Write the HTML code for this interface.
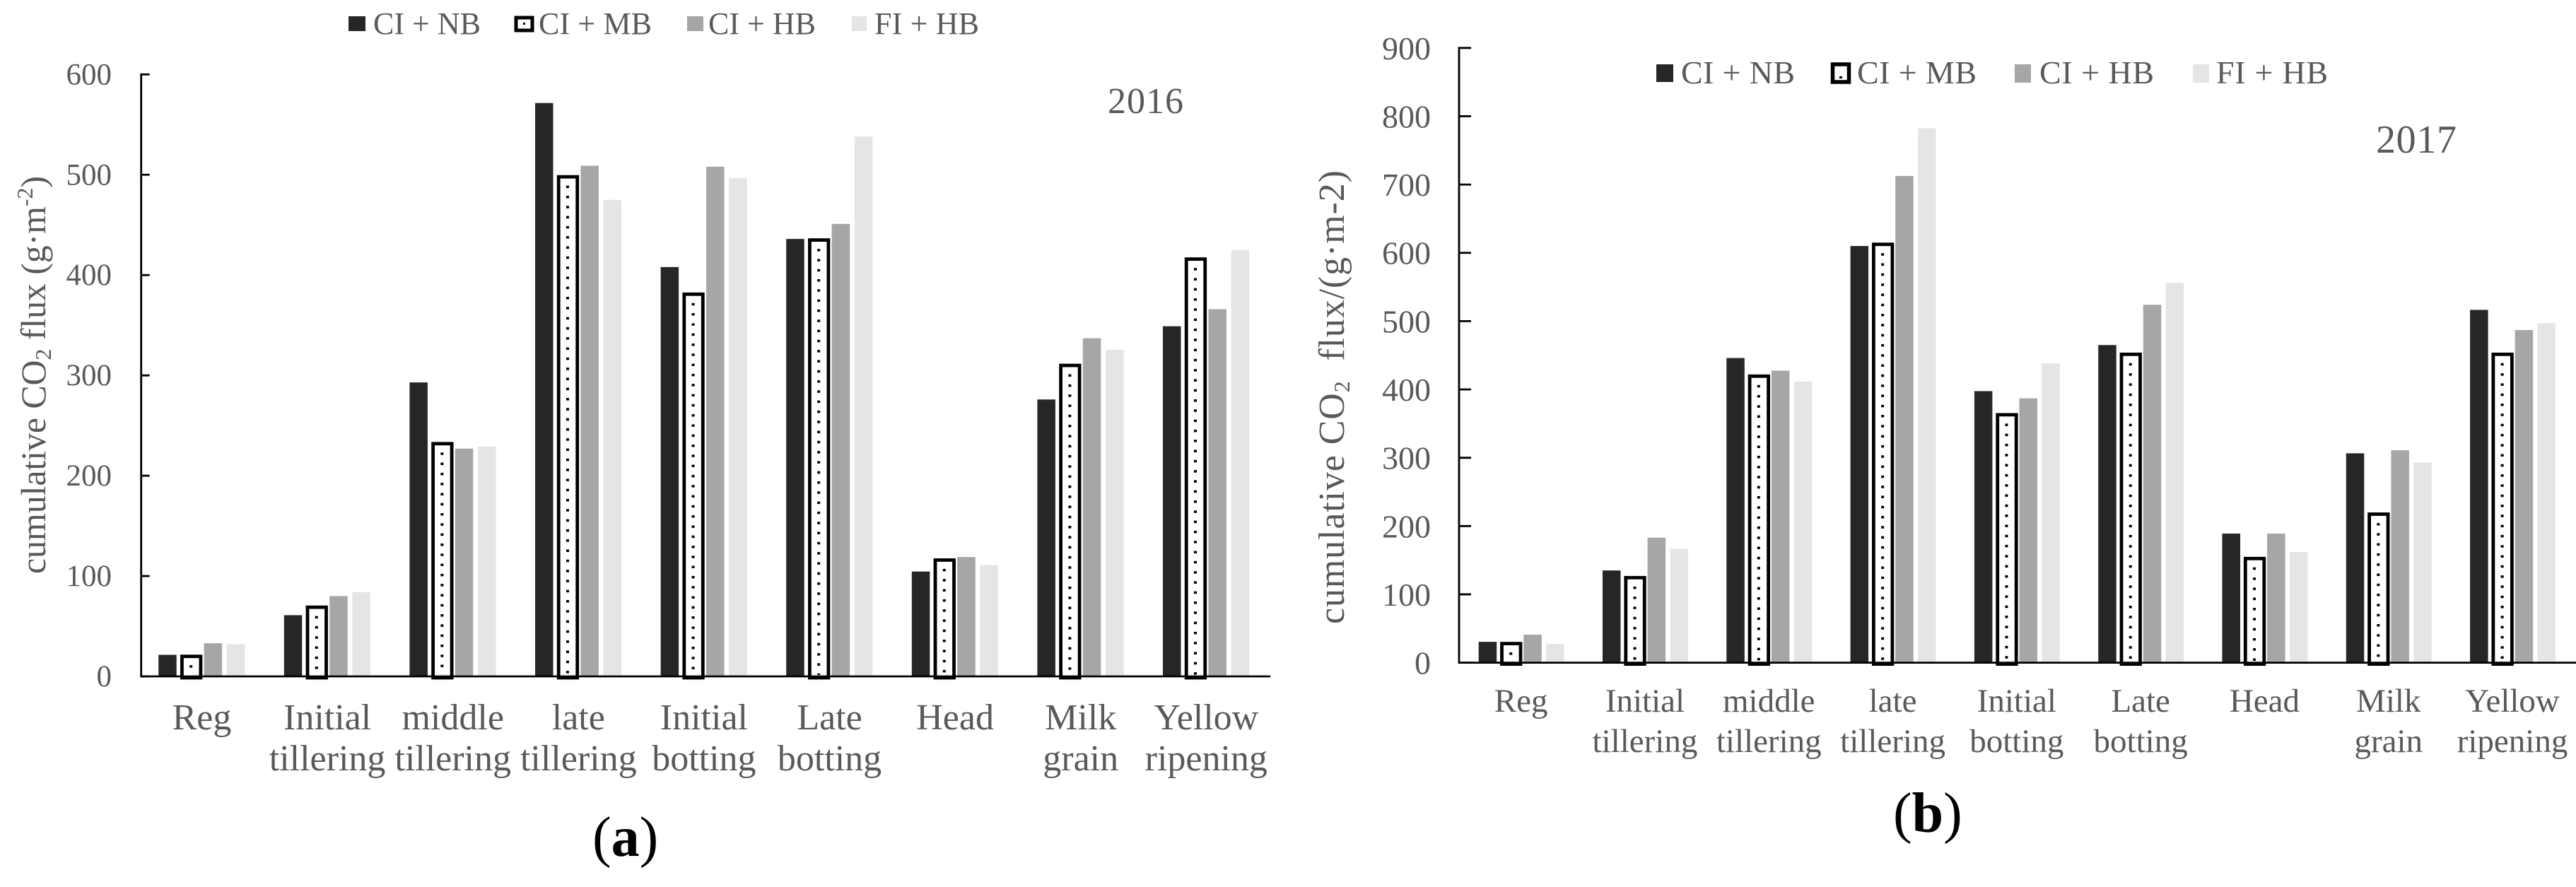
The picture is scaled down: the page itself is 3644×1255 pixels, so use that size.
<!DOCTYPE html>
<html>
<head>
<meta charset="utf-8">
<title>Cumulative CO2 flux 2016 and 2017</title>
<style>
html,body{margin:0;padding:0;background:#fff;width:3644px;height:1255px;overflow:hidden}
svg{display:block}
text{font-family:"Liberation Serif",serif;fill:#595959}
</style>
</head>
<body>
<svg id="fig" width="3644" height="1255" viewBox="0 0 3644 1255" xmlns="http://www.w3.org/2000/svg">
<rect width="3644" height="1255" fill="#ffffff"/>
<g id="chartA"></g>
<g id="chartB"></g>

<text x="1567" y="160" font-size="52" textLength="107">2016</text>
<text x="3361" y="216" font-size="56" textLength="114">2017</text>

<text transform="translate(64,812) rotate(-90)" font-size="50" textLength="563">cumulative CO<tspan font-size="32" dy="8">2</tspan><tspan dy="-8"> flux (g·m</tspan><tspan font-size="32" dy="-18">-2</tspan><tspan dy="18">)</tspan></text>
<text transform="translate(1901,883) rotate(-90)" font-size="52" textLength="642">cumulative CO<tspan font-size="32" dy="8">2</tspan><tspan dy="-8">&#160;&#160;flux/(g·m-2)</tspan></text>

<text x="838" y="1211" font-size="80" style="fill:#000">(<tspan font-weight="bold">a</tspan>)</text>
<text x="2678" y="1177" font-size="80" style="fill:#000">(<tspan font-weight="bold">b</tspan>)</text>

<g>
  <g>
    <rect x="493" y="23" width="24" height="21" fill="#262626"/>
    <text x="528" y="48" font-size="44" textLength="152">CI + NB</text>
  </g>
  <g>
    <rect x="730" y="25" width="23" height="18" fill="#fff" stroke="#000" stroke-width="5"/>
    <rect x="740" y="32" width="3" height="3" fill="#000"/>
    <text x="762" y="48" font-size="44" textLength="160">CI + MB</text>
  </g>
  <g>
    <rect x="972" y="23" width="23" height="21" fill="#a6a6a6"/>
    <text x="1002" y="48" font-size="44" textLength="152">CI + HB</text>
  </g>
  <g>
    <rect x="1205" y="23" width="21" height="21" fill="#e5e5e5"/>
    <text x="1237" y="48" font-size="44" textLength="148">FI + HB</text>
  </g>
</g>

<g>
  <g>
    <rect x="2343" y="91" width="24" height="25" fill="#262626"/>
    <text x="2378" y="118" font-size="46" textLength="161">CI + NB</text>
  </g>
  <g>
    <rect x="2592.5" y="91" width="23" height="25" fill="#fff" stroke="#000" stroke-width="5.5"/>
    <rect x="2602" y="108" width="4" height="3" fill="#000"/>
    <text x="2627" y="118" font-size="46" textLength="169">CI + MB</text>
  </g>
  <g>
    <rect x="2850" y="91" width="23" height="26" fill="#a6a6a6"/>
    <text x="2885" y="118" font-size="46" textLength="162">CI + HB</text>
  </g>
  <g>
    <rect x="3102" y="91" width="23" height="26" fill="#e5e5e5"/>
    <text x="3135" y="118" font-size="46" textLength="158">FI + HB</text>
  </g>
</g>
</svg>

<script>
// Shared categories (two printed lines per category)
const categoriesLine1 = ["Reg","Initial","middle","late","Initial","Late","Head","Milk","Yellow"];
const categoriesLine2 = ["","tillering","tillering","tillering","botting","botting","","grain","ripening"];
const seriesNames = ["CI + NB","CI + MB","CI + HB","FI + HB"];

// 2016 values
const nb2016 = [21.5,61,293,571.5,408,436,104.5,276,349];
const mb2016 = [21,70,233,499,382,436,117,311,417];
const hb2016 = [33,80,227,509,508,451,119,337,366];
const fi2016 = [32,84,229,475,496.5,538,111,325.5,425];
const ticks2016 = [0,100,200,300,400,500,600];

// 2017 values
const nb2017 = [30.5,135,446,610,397.5,465,189,306.5,516.5];
const mb2017 = [29.5,126,421,614,364.5,453,154,219,453];
const hb2017 = [41,183,427.5,712.5,387,524,189,311,487];
const fi2017 = [27.5,167,411.5,782.5,438,556,162,293,497];
const ticks2017 = [0,100,200,300,400,500,600,700,800,900];

const SVGNS = "http://www.w3.org/2000/svg";
function mk(parent, tag, geom){
  const e = document.createElementNS(SVGNS, tag);
  for (const k in geom) e.setAttribute(k, geom[k]);
  parent.appendChild(e);
  return e;
}

function drawChart(root, cfg){
  const series = cfg.series;
  const y = v => cfg.y0 - (v - cfg.min) / (cfg.max - cfg.min) * (cfg.y0 - cfg.yTop);
  const xBand = i => cfg.axisX + cfg.band * i;
  const slug = cfg.year;

  const barsGroup = mk(root, "g", {});
  
  

  categoriesLine1.forEach((c, i) => {
    series.forEach((vals, j) => {
      const x = xBand(i) + cfg.barOff + j * cfg.step;
      const top = y(vals[i]);
      if (j === 1) {
        const o = mk(barsGroup, "rect", {x: x + 1, y: top + 1.5, width: cfg.barW + 1, height: cfg.y0 - top + 0.5, fill: "#fff", stroke: "#000", "stroke-width": 4.8});
        
        
        const d = mk(barsGroup, "line", {x1: x + cfg.barW / 2 + 1, x2: x + cfg.barW / 2 + 1, y1: top + 14, y2: cfg.y0 - 2, stroke: "#000", "stroke-width": 4, "stroke-dasharray": "3.5 10.8"});
        
        
      } else {
        const r = mk(barsGroup, "rect", {x: x, y: top, width: cfg.barW, height: cfg.y0 - top, fill: cfg.colors[j]});
        
        
      }
    });
  });

  const axis = mk(root, "g", {stroke: "#000", "stroke-width": 2.8});
  
  
  const yLine = mk(axis, "line", {x1: cfg.axisX, x2: cfg.axisX, y1: y(cfg.max) - 1.4, y2: cfg.y0 + 1.4});
  
  
  const xLine = mk(axis, "line", {x1: cfg.axisX, x2: cfg.axisEnd, y1: cfg.y0, y2: cfg.y0});
  
  

  cfg.ticks.forEach(t => {
    const tk = mk(axis, "line", {x1: cfg.axisX, x2: cfg.axisX + cfg.tickLen, y1: y(t), y2: y(t)});
    
    
    const lb = mk(root, "text", {x: cfg.tickLabelX, y: y(t) + cfg.tickDy, "font-size": cfg.tickFont, "text-anchor": "end"});
    lb.textContent = String(t);
    
    
  });

  categoriesLine1.forEach((c, i) => {
    const cx = xBand(i) + cfg.band / 2 + cfg.labelShift;
    const a = mk(root, "text", {x: cx, y: cfg.labelY1, "font-size": cfg.labelFont, "text-anchor": "middle"});
    a.textContent = c;
    
    
    if (categoriesLine2[i]) {
      const b = mk(root, "text", {x: cx, y: cfg.labelY2, "font-size": cfg.labelFont, "text-anchor": "middle"});
      b.textContent = categoriesLine2[i];
      
      
    }
  });
}

const barColors = ["#262626","#ffffff","#a6a6a6","#e5e5e5"];

drawChart(document.getElementById("chartA"), {
  year: "2016",
  series: [nb2016, mb2016, hb2016, fi2016],
  ticks: ticks2016, min: 0, max: 600,
  y0: 957, yTop: 105.3,
  axisX: 199.7, axisEnd: 1797, band: 177.6,
  barOff: 24.5, step: 32.2, barW: 25.5,
  tickLen: 12, tickLabelX: 158, tickDy: 14, tickFont: 43,
  labelFont: 52, labelY1: 1032, labelY2: 1090, labelShift: -3,
  colors: barColors
});

drawChart(document.getElementById("chartB"), {
  year: "2017",
  series: [nb2017, mb2017, hb2017, fi2017],
  ticks: ticks2017, min: 0, max: 900,
  y0: 937.6, yTop: 67.8,
  axisX: 2064, axisEnd: 3644, band: 175.3,
  barOff: 27.7, step: 31.8, barW: 25.5,
  tickLen: 17, tickLabelX: 2024, tickDy: 16, tickFont: 46,
  labelFont: 47, labelY1: 1007, labelY2: 1064, labelShift: 0,
  colors: barColors
});
</script>
</body>
</html>
